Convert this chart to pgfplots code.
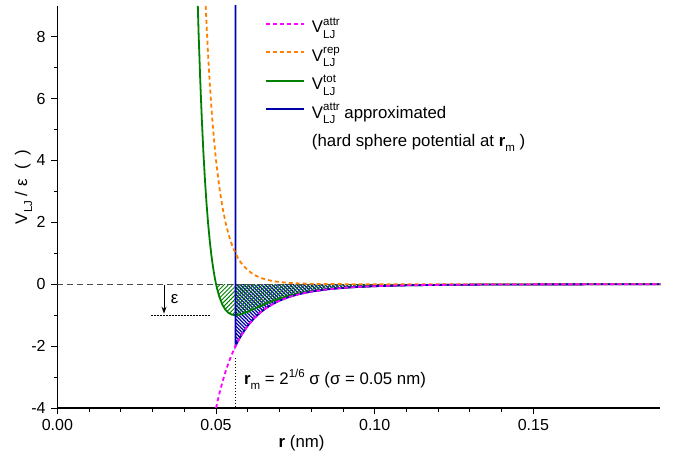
\documentclass[border=0pt]{standalone}
\usepackage{fontspec}
\setmainfont{Liberation Sans}
\usepackage{pgfplots}
\pgfplotsset{compat=1.18}
\usetikzlibrary{patterns.meta, arrows.meta}

\definecolor{cmag}{RGB}{255,0,255}
\definecolor{corange}{RGB}{255,128,0}
\definecolor{cgreen}{RGB}{0,128,0}
\definecolor{cblue}{RGB}{0,0,170}

\newcommand{\supsub}[2]{%
  \begingroup\fontsize{11.5}{11.5}\selectfont
  \setbox0=\hbox{#1}\setbox2=\hbox{#2}%
  \dimen0=\wd0 \ifdim\wd2>\dimen0 \dimen0=\wd2\fi
  \rlap{\raisebox{7.5pt}{\box0}}\rlap{\raisebox{-5.5pt}{\box2}}\hspace{\dimen0}%
  \endgroup}
\newcommand{\lstrut}{\vrule height 20pt depth 7pt width 0pt\relax}
\newcommand{\txtfont}{\fontsize{16.8}{19}\selectfont}

\begin{document}
\fontsize{16.8}{19}\selectfont
\begin{tikzpicture}
\useasboundingbox (-57.4pt,-50pt) rectangle (625.6pt,408pt);
\begin{axis}[
  scale only axis, width=602.9pt, height=402.2pt,
  xmin=0, xmax=0.19, ymin=-4, ymax=9,
  axis x line*=bottom, axis y line*=left,
  axis line style={line width=1.1pt, black},
  tick align=outside, major tick length=6pt, minor tick length=3.5pt,
  tick style={black, line width=0.9pt},
  xtick={0,0.05,0.10,0.15}, minor x tick num=4,
  ytick={-4,-2,0,2,4,6,8}, minor y tick num=1,
  x tick label style={/pgf/number format/.cd, fixed, fixed zerofill, precision=2, /tikz/.cd},
  /pgf/number format/assume math mode=true,
  tick label style={font=\fontsize{16}{18}\selectfont},
  xlabel={\textbf{r} (nm)},
  xlabel style={at={(axis description cs:0.405,-0.067)}, anchor=north, inner sep=0pt, font=\txtfont},
  ylabel={V\raisebox{-5pt}{\fontsize{11.5}{11.5}\selectfont LJ} / ε\ \ (\ \ )},
  ylabel style={at={(axis description cs:-0.056,0.55)}, anchor=center, inner sep=0pt, font=\txtfont},
  legend style={at={(0.3443,0.983)}, anchor=north west, draw=none, fill=none,
    inner sep=0pt, outer sep=0pt, row sep=6pt,
    nodes={inner sep=0pt, outer sep=0pt},
    /tikz/every odd column/.append style={column sep=7pt},
    font=\txtfont},
  legend cell align=left,
  legend image code/.code={\draw[line width=2pt, line cap=butt, #1] (0pt,0pt) -- (38pt,0pt);},
  clip=true,
]

% legend
\addlegendimage{draw=cmag, dash pattern=on 4pt off 3pt}
\addlegendentry{\lstrut V\supsub{attr}{LJ}}
\addlegendimage{draw=corange, dash pattern=on 4pt off 3pt}
\addlegendentry{\lstrut V\supsub{rep}{LJ}}
\addlegendimage{draw=cgreen}
\addlegendentry{\lstrut V\supsub{tot}{LJ}}
\addlegendimage{draw=cblue}
\addlegendentry{\lstrut V\supsub{attr}{LJ} approximated}
\addlegendimage{empty legend}
\addlegendentry{\lstrut (hard sphere potential at \textbf{r}\raisebox{-5pt}{\fontsize{11.5}{11.5}\selectfont m}\ )}

% blue hatched area: between V_attr and 0 for r >= r_m
\addplot[forget plot, draw=none, pattern={Lines[angle=-45,distance=2.5pt,line width=1.25pt]}, pattern color=cblue] coordinates {
(0.05612,0) (0.05612,-2.0) (0.057,-1.822) (0.058,-1.642) (0.060,-1.340) (0.062,-1.100)
(0.064,-0.910) (0.066,-0.756) (0.068,-0.632) (0.070,-0.531) (0.073,-0.413) (0.076,-0.324)
(0.080,-0.238) (0.085,-0.166) (0.090,-0.118) (0.095,-0.085) (0.100,-0.063) (0.110,-0.035)
(0.120,-0.021) (0.130,-0.013) (0.140,-0.008) (0.150,-0.005) (0.160,-0.004) (0.170,-0.003)
(0.180,-0.002) (0.190,-0.001) (0.190,0)} \closedcycle;

% green hatched area: between V_tot and 0
\addplot[forget plot, draw=none, pattern={Lines[angle=45,distance=3pt,line width=0.9pt]}, pattern color=cgreen] coordinates {
(0.050,0) (0.0505,-0.210) (0.051,-0.398) (0.052,-0.663) (0.053,-0.832) (0.054,-0.932) (0.055,-0.983)
(0.05612,-1.0) (0.057,-0.992) (0.058,-0.968) (0.060,-0.891) (0.062,-0.798) (0.064,-0.703)
(0.066,-0.613) (0.068,-0.532) (0.070,-0.461) (0.073,-0.370) (0.076,-0.298) (0.080,-0.224)
(0.085,-0.159) (0.090,-0.114) (0.095,-0.083) (0.100,-0.062) (0.110,-0.035) (0.120,-0.021)
(0.130,-0.013) (0.140,-0.008) (0.150,-0.005) (0.160,-0.004) (0.170,-0.003) (0.180,-0.002)
(0.190,-0.001) (0.190,0)} \closedcycle;

% zero line
\addplot[forget plot, black!70, dash pattern=on 6pt off 4pt, line width=1.1pt] coordinates {(0,0) (0.19,0)};

% epsilon marker
\addplot[forget plot, black, dash pattern=on 1.5pt off 1.5pt, line width=0.8pt] coordinates {(0.0295,-1) (0.0483,-1)};
\addplot[forget plot, black, line width=0.9pt, -{Stealth[length=7pt,width=5pt]}] coordinates {(0.0336,-0.03) (0.0336,-0.95)};
\node[anchor=west, inner sep=0pt] at (axis cs:0.0357,-0.48) {ε};

% r_m marker
\addplot[forget plot, black, dash pattern=on 1.5pt off 1.5pt, line width=0.8pt] coordinates {(0.05612,-2.38) (0.05612,-4)};
\node[anchor=base west, inner sep=0pt] at (axis cs:0.0588,-3.254)
  {\textbf{r}\raisebox{-5pt}{\fontsize{11.5}{11.5}\selectfont m} = 2\raisebox{7.5pt}{\fontsize{11.5}{11.5}\selectfont 1/6} σ (σ = 0.05 nm)};

% V_tot
\addplot[forget plot, cgreen, line width=1.8pt] coordinates {
(0.04425,9.0) (0.0445,8.11) (0.045,6.636) (0.0455,5.360) (0.046,4.283) (0.0465,3.373) (0.047,2.607)
(0.0475,1.961) (0.048,1.418) (0.0485,0.963) (0.049,0.582) (0.0495,0.264) (0.050,0)
(0.0505,-0.210) (0.051,-0.398) (0.052,-0.663) (0.053,-0.832) (0.054,-0.932) (0.055,-0.983)
(0.05612,-1.0) (0.057,-0.992) (0.058,-0.968) (0.060,-0.891) (0.062,-0.798) (0.064,-0.703)
(0.066,-0.613) (0.068,-0.532) (0.070,-0.461) (0.073,-0.370) (0.076,-0.298) (0.080,-0.224)
(0.085,-0.159) (0.090,-0.114) (0.095,-0.083) (0.100,-0.062) (0.110,-0.035) (0.120,-0.021)
(0.130,-0.013) (0.140,-0.008) (0.150,-0.005) (0.160,-0.004) (0.170,-0.003) (0.180,-0.002)
(0.190,-0.001)};

% V_attr approximated (hard sphere)
\addplot[forget plot, cblue, line width=1.8pt] coordinates {
(0.05612,9.5) (0.05612,-2.0) (0.057,-1.822) (0.058,-1.642) (0.060,-1.340) (0.062,-1.100)
(0.064,-0.910) (0.066,-0.756) (0.068,-0.632) (0.070,-0.531) (0.073,-0.413) (0.076,-0.324)
(0.080,-0.238) (0.085,-0.166) (0.090,-0.118) (0.095,-0.085) (0.100,-0.063) (0.110,-0.035)
(0.120,-0.021) (0.130,-0.013) (0.140,-0.008) (0.150,-0.005) (0.160,-0.004) (0.170,-0.003)
(0.180,-0.002) (0.190,-0.001)};

% V_rep
\addplot[forget plot, corange, dash pattern=on 4pt off 3pt, line width=1.8pt] coordinates {
(0.04673,9.0) (0.047,8.405) (0.0475,7.402) (0.048,6.528) (0.0485,5.765) (0.049,5.097)
(0.0495,4.513) (0.050,4.0) (0.051,3.154) (0.052,2.498) (0.053,1.988) (0.054,1.588)
(0.055,1.275) (0.05612,1.0) (0.057,0.830) (0.058,0.674) (0.060,0.449) (0.062,0.303)
(0.064,0.207) (0.066,0.143) (0.068,0.100) (0.070,0.071) (0.073,0.043) (0.076,0.026)
(0.080,0.014) (0.085,0.007) (0.090,0.003) (0.095,0.002) (0.100,0.001) (0.110,0.0003)
(0.130,0.0) (0.190,0.0)};

% V_attr
\addplot[forget plot, cmag, dash pattern=on 4pt off 3pt, line width=1.8pt] coordinates {
(0.050,-4.0) (0.0505,-3.768) (0.051,-3.552) (0.052,-3.161) (0.053,-2.820) (0.054,-2.521)
(0.055,-2.258) (0.05612,-2.0) (0.057,-1.822) (0.058,-1.642) (0.060,-1.340) (0.062,-1.100)
(0.064,-0.910) (0.066,-0.756) (0.068,-0.632) (0.070,-0.531) (0.073,-0.413) (0.076,-0.324)
(0.080,-0.238) (0.085,-0.166) (0.090,-0.118) (0.095,-0.085) (0.100,-0.063) (0.110,-0.035)
(0.120,-0.021) (0.130,-0.013) (0.140,-0.008) (0.150,-0.005) (0.160,-0.004) (0.170,-0.003)
(0.180,-0.002) (0.190,-0.001)};

\end{axis}
\end{tikzpicture}
\end{document}
